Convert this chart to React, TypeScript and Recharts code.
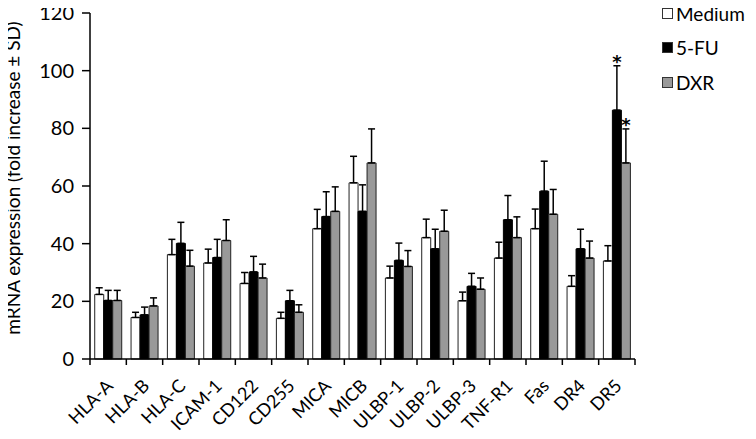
import React from 'react';
import {
  BarChart,
  Bar,
  XAxis,
  YAxis,
  ErrorBar,
  Legend,
  LabelList,
  Text,
} from 'recharts';

const categories = ['HLA-A', 'HLA-B', 'HLA-C', 'ICAM-1', 'CD122', 'CD255', 'MICA', 'MICB', 'ULBP-1', 'ULBP-2', 'ULBP-3', 'TNF-R1', 'Fas', 'DR4', 'DR5'];

const medium = [22.4, 14.4, 36.2, 33.3, 26.2, 14.1, 45.2, 61.1, 28.1, 42.1, 20.2, 35, 45.2, 25.2, 34];
const mediumErr = [2.3, 1.8, 5.3, 4.8, 3.8, 2.1, 6.7, 9.2, 4.1, 6.4, 3, 5.5, 6.8, 3.7, 5.3];
const fu = [20.3, 15.3, 40.1, 35.2, 30.2, 20.2, 49.4, 51.2, 34.2, 38.2, 25.2, 48.3, 58.2, 38.2, 86.3];
const fuErr = [3.5, 2.7, 7.3, 6.3, 5.4, 3.6, 8.6, 9.2, 6, 6.8, 4.5, 8.4, 10.4, 6.8, 15.4];
const dxr = [20.3, 18.4, 32.2, 41.1, 28.1, 16.2, 51.2, 68, 32.1, 44.3, 24.2, 42.1, 50.2, 35, 68];
const dxrErr = [3.5, 2.8, 5.5, 7.2, 4.8, 2.6, 8.5, 11.8, 5.5, 7.3, 3.9, 7.2, 8.6, 5.9, 11.8];

// significance marks (only DR5)
const fuSig = ['', '', '', '', '', '', '', '', '', '', '', '', '', '', '*'];
const dxrSig = ['', '', '', '', '', '', '', '', '', '', '', '', '', '', '*'];

const seriesNames = ['Medium', '5-FU', 'DXR'];
const yTicks = [0, 20, 40, 60, 80, 100, 120];

const data = categories.map((name, i) => ({
  name,
  medium: medium[i],
  mediumErr: [0, mediumErr[i]],
  fu: fu[i],
  fuErr: [0, fuErr[i]],
  fuSig: fuSig[i],
  dxr: dxr[i],
  dxrErr: [0, dxrErr[i]],
  dxrSig: dxrSig[i],
}));

const FONT = 'Lato, "Open Sans", sans-serif';
const CHART_W = 748;
const CHART_H = 439;
const MARGIN = { top: 13, right: 113, bottom: 0, left: 0 };
const Y_AXIS_W = 90;
const X_AXIS_H = 80;
const BAND = (CHART_W - MARGIN.right - Y_AXIS_W) / categories.length;

const XTick = (props: any) => {
  const { x, y, payload, index } = props;
  const half = BAND / 2;
  return (
    <g>
      <line x1={x - half} y1={y} x2={x - half} y2={y + 6} stroke="#000" strokeWidth={1.5} />
      {index === categories.length - 1 && (
        <line x1={x + half} y1={y} x2={x + half} y2={y + 6} stroke="#000" strokeWidth={1.5} />
      )}
      <Text
        x={x + 6}
        y={y + 28}
        angle={-45}
        textAnchor="end"
        verticalAnchor="end"
        fontSize={18}
        fontFamily={FONT}
        fill="#000"
      >
        {payload.value}
      </Text>
    </g>
  );
};

const makeStar = (vals: number[], errs: number[]) => (props: any) => {
  const { x, y, width, height, value, index } = props;
  if (!value) return null;
  const perUnit = height / vals[index];
  const top = y - errs[index] * perUnit;
  return (
    <text
      x={x + width / 2}
      y={top + 2}
      textAnchor="middle"
      fontSize={18}
      fontWeight="bold"
      fontFamily='"DejaVu Sans", sans-serif'
      fill="#000"
      stroke="none"
    >
      {value}
    </text>
  );
};

const LegendBox = (props: any) => {
  const items = [...(props.payload || [])].sort(
    (a: any, b: any) => seriesNames.indexOf(a.value) - seriesNames.indexOf(b.value)
  );
  return (
    <div style={{ fontFamily: FONT, fontSize: 19, color: '#000' }}>
      {items.map((entry: any, i: number) => (
        <div key={i} style={{ display: 'flex', alignItems: 'center', height: 34.5 }}>
          <span
            style={{
              display: 'inline-block',
              width: 9,
              height: 9,
              border: '1px solid #333',
              backgroundColor: entry.color,
              marginRight: 3,
            }}
          />
          <span>{entry.value}</span>
        </div>
      ))}
    </div>
  );
};

export default function App() {
  return (
    <div style={{ width: CHART_W, height: CHART_H, position: 'relative', marginLeft: -8, marginTop: -8 }}>
      <BarChart
        width={CHART_W}
        height={CHART_H}
        data={data}
        margin={MARGIN}
        barCategoryGap="13%"
        barGap={0}
      >
        <XAxis
          dataKey="name"
          height={X_AXIS_H}
          interval={0}
          tickLine={false}
          tickSize={0}
          tickMargin={0}
          tick={<XTick />}
          axisLine={{ stroke: '#000', strokeWidth: 1.5 }}
        />
        <YAxis
          width={Y_AXIS_W}
          domain={[0, 120]}
          ticks={yTicks}
          interval={0}
          tickSize={8}
          tickMargin={8}
          tick={{ fill: '#000', fontSize: 20, fontFamily: FONT }}
          axisLine={{ stroke: '#000', strokeWidth: 1.5 }}
          tickLine={{ stroke: '#000', strokeWidth: 1.5 }}
          label={{
            content: () => (
              <text
                x={20}
                y={178}
                transform="rotate(-90, 20, 178)"
                textAnchor="middle"
                fontSize={19}
                fontFamily={FONT}
                fill="#000"
              >
                mRNA expression (fold increase ± SD)
              </text>
            ),
          }}
        />
        <Legend
          layout="vertical"
          align="center"
          verticalAlign="middle"
          content={<LegendBox />}
          wrapperStyle={{ top: -4, left: 662, width: 100 }}
        />
        <Bar dataKey="medium" name="Medium" fill="#ffffff" stroke="#222" strokeWidth={1} isAnimationActive={false}>
          <ErrorBar dataKey="mediumErr" width={3.5} stroke="#000" strokeWidth={1.5} direction="y" />
        </Bar>
        <Bar dataKey="fu" name="5-FU" fill="#000000" stroke="#000" strokeWidth={1} isAnimationActive={false}>
          <ErrorBar dataKey="fuErr" width={3.5} stroke="#000" strokeWidth={1.5} direction="y" />
          <LabelList dataKey="fuSig" content={makeStar(fu, fuErr)} />
        </Bar>
        <Bar dataKey="dxr" name="DXR" fill="#999999" stroke="#222" strokeWidth={1} isAnimationActive={false}>
          <ErrorBar dataKey="dxrErr" width={3.5} stroke="#000" strokeWidth={1.5} direction="y" />
          <LabelList dataKey="dxrSig" content={makeStar(dxr, dxrErr)} />
        </Bar>
      </BarChart>
    </div>
  );
}
